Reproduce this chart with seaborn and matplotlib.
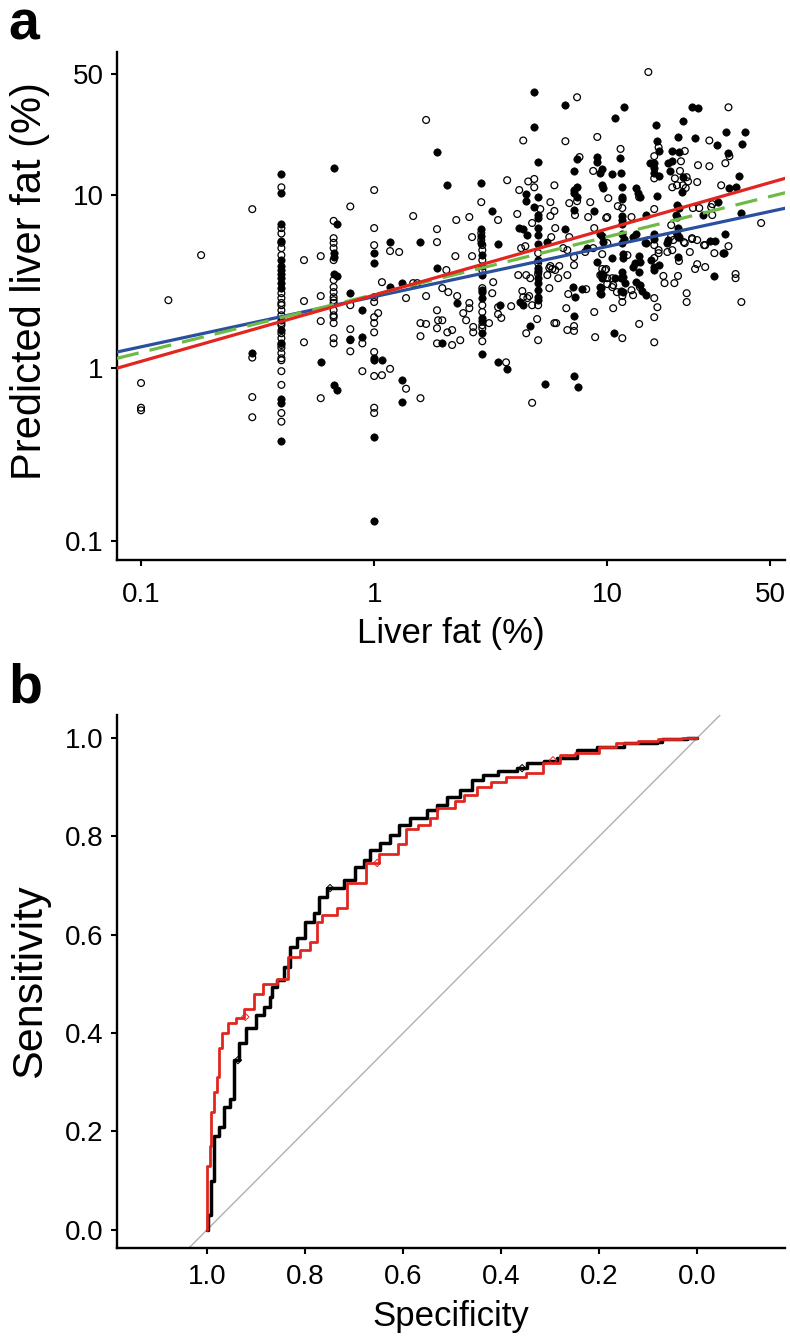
import numpy as np
import pandas as pd
import seaborn as sns
import matplotlib.pyplot as plt

sns.set_style("ticks")
plt.rcParams['font.family'] = ['Liberation Sans', 'DejaVu Sans']
plt.rcParams.update({"text.color": "black", "axes.labelcolor": "black", "axes.edgecolor": "black",
                     "xtick.color": "black", "ytick.color": "black"})

# ---- panel a: measured vs predicted liver fat (%), read off the figure ----
# filled dots
filled_pts = [
    (0.40, 13.2), (0.40, 10.3), (0.40, 6.8), (0.40, 5.4), (0.40, 4.2), (0.40, 3.9), (0.40, 3.7),
    (0.40, 3.5), (0.40, 3.3), (0.40, 3.1), (0.40, 2.9), (0.40, 1.9), (0.40, 1.66), (0.40, 1.4),
    (0.40, 0.66), (0.40, 0.63), (0.40, 0.38),
    (0.67, 14.3), (0.67, 4.6), (0.67, 4.4), (0.67, 3.5), (0.67, 0.80), (0.69, 6.8), (0.69, 3.4), (0.69, 0.75),
    (0.59, 1.08), (0.79, 2.7), (0.79, 1.47), (0.89, 2.16), (0.89, 1.51),
    (1.0, 4.6), (1.0, 4.05), (1.0, 1.14), (1.0, 1.11), (1.0, 0.40), (1.0, 0.13),
    (1.08, 1.11), (1.17, 5.35), (1.17, 2.94), (1.32, 3.1), (1.32, 0.85), (1.32, 0.64), (1.57, 5.35),
    (1.86, 17.7), (1.86, 3.8), (0.30, 1.22),
    (4.86, 39.4), (6.6, 33.2), (4.86, 24.7), (5.05, 15.5), (7.4, 16.1), (9.06, 16.6), (9.06, 15.5),
    (9.5, 14.1), (7.2, 13.8), (2.06, 11.4), (2.88, 11.7), (4.5, 10.1), (5.05, 9.7), (7.4, 11.1),
    (7.2, 10.7), (7.2, 10.3), (7.4, 9.7), (9.5, 11.4), (9.6, 11.0), (4.5, 9.2), (3.2, 8.1), (4.86, 8.5),
    (5.05, 7.7), (5.05, 7.4), (7.2, 8.2), (8.8, 8.1),
    (2.88, 6.4), (2.88, 5.8), (2.88, 5.3), (3.4, 5.2), (4.2, 6.5), (4.36, 6.4), (4.54, 5.9), (5.05, 6.5),
    (5.05, 5.9), (5.5, 5.35), (6.6, 6.4), (9.5, 5.8), (5.05, 5.2),
    (2.9, 4.5), (2.9, 3.9), (2.9, 3.45), (2.9, 2.82), (2.9, 2.75), (2.9, 2.54), (2.9, 1.95), (2.9, 1.87),
    (2.9, 1.59), (2.9, 1.20),
    (2.27, 2.38), (1.96, 1.39), (3.4, 1.08), (3.72, 0.99), (3.47, 2.31), (4.23, 2.41), (4.36, 2.31), (4.67, 1.75),
    (5.05, 4.2), (5.05, 3.8), (5.05, 3.64), (5.05, 3.3), (5.05, 3.1), (5.05, 2.82), (5.05, 2.57), (5.05, 2.47),
    (5.42, 0.81), (7.13, 2.94), (7.27, 2.57), (7.8, 2.86), (7.2, 2.0), (7.2, 0.90), (7.5, 0.78), (8.2, 4.94),
    (9.06, 4.1), (9.42, 3.5), (9.5, 3.3), (9.42, 2.9), (9.42, 2.68),
    (11.8, 32.2), (10.8, 28.1), (23.1, 32.2), (24.5, 31.8), (16.1, 25.4), (21.1, 26.8), (32.4, 23.2),
    (38.8, 23.2), (20.1, 21.7), (23.8, 21.3), (29.6, 19.4), (38.0, 19.7), (16.4, 20.5), (16.7, 18.0),
    (11.3, 16.4), (19.0, 18.0), (20.3, 17.7), (15.3, 15.3), (15.8, 15.3), (15.9, 14.3), (15.8, 13.4),
    (16.6, 12.9), (18.3, 15.3), (19.0, 15.7), (18.6, 13.8), (21.1, 12.7), (36.6, 12.9), (33.1, 17.5),
    (9.33, 13.4), (10.5, 13.2), (11.5, 13.4), (20.9, 10.4), (11.6, 11.1), (11.6, 9.7), (11.6, 9.5),
    (13.3, 11.0), (13.6, 10.3), (13.8, 9.7), (16.4, 9.9), (33.4, 11.0), (35.5, 11.1), (29.9, 9.1),
    (19.9, 8.8), (20.3, 8.4), (25.8, 7.7), (37.3, 7.9), (14.6, 7.7), (19.7, 7.7), (19.9, 7.5),
    (11.6, 7.6), (11.6, 7.2), (11.6, 6.8), (9.33, 6.0), (9.6, 5.35), (11.6, 6.0), (11.8, 5.6),
    (11.6, 5.3), (13.3, 6.0), (12.9, 5.7), (15.9, 6.0), (15.8, 5.6), (14.6, 5.3), (20.1, 6.45),
    (19.9, 6.0), (20.1, 5.7), (18.1, 5.3), (27.6, 5.4), (29.1, 5.4), (32.1, 5.95), (31.4, 4.6),
    (10.5, 4.33), (11.7, 4.56), (11.7, 4.33), (11.6, 3.59), (11.5, 3.31), (11.7, 3.36), (9.6, 3.45),
    (10.8, 3.31), (9.33, 2.94), (9.33, 2.71), (11.4, 2.79), (11.7, 2.75), (11.9, 3.1), (13.2, 4.05),
    (12.9, 3.84), (13.8, 4.1), (13.7, 3.59), (13.7, 4.44), (13.3, 3.14), (13.8, 3.02), (14.1, 2.79),
    (14.6, 2.64), (10.7, 1.59), (15.4, 4.21), (15.9, 3.84), (16.6, 3.94), (15.9, 3.69), (20.1, 4.38),
    (18.3, 5.5), (20.3, 5.72), (31.8, 4.62), (28.8, 3.41),
]

# open circles
open_pts = [
    (0.131, 2.47), (0.181, 4.5), (0.30, 8.3), (0.1, 0.82), (0.1, 0.59), (0.1, 0.57),
    (0.30, 1.15), (0.30, 0.68), (0.30, 0.52),
    (0.40, 11.1), (0.40, 6.45), (0.40, 6.0), (0.40, 5.3), (0.40, 4.94), (0.40, 4.5), (0.40, 2.71),
    (0.40, 2.54), (0.40, 2.38), (0.40, 2.31), (0.40, 2.16), (0.40, 2.02), (0.40, 1.82), (0.40, 1.77),
    (0.40, 1.59), (0.40, 1.49), (0.40, 1.36), (0.40, 1.31), (0.40, 1.22), (0.40, 1.14), (0.40, 1.11),
    (0.40, 0.96), (0.40, 0.80), (0.40, 0.55), (0.40, 0.49),
    (0.67, 7.1), (0.67, 5.64), (0.67, 5.3), (0.67, 4.94), (0.67, 4.21), (0.67, 3.23), (0.67, 2.94),
    (0.67, 2.75), (0.67, 2.57), (0.67, 2.47), (0.67, 2.38), (0.67, 2.16), (0.67, 2.02), (0.67, 1.97),
    (0.67, 1.82), (0.67, 1.49), (0.67, 1.39),
    (0.50, 4.21), (0.50, 2.44), (0.50, 1.41), (0.59, 4.44), (0.59, 2.61), (0.59, 1.87), (0.59, 0.67),
    (0.79, 8.6), (0.79, 2.31), (0.79, 1.68), (0.79, 1.45), (0.79, 1.25), (0.89, 1.39), (0.89, 0.96),
    (1.0, 10.7), (1.0, 6.45), (1.0, 5.14), (1.0, 2.57), (1.0, 2.41), (1.0, 1.97), (1.0, 1.82),
    (1.0, 1.61), (1.0, 1.24), (1.0, 0.90), (1.0, 0.59), (1.0, 0.55),
    (1.04, 2.08), (1.08, 3.14), (1.08, 0.91), (1.17, 4.75), (1.17, 0.99), (1.28, 4.69), (1.37, 2.54),
    (1.37, 0.76), (1.47, 7.57), (1.47, 3.1), (1.53, 3.1), (1.58, 1.82), (1.58, 1.53), (1.58, 0.67),
    (1.67, 27.2), (1.67, 2.61), (1.67, 1.8), (1.86, 6.36), (1.86, 5.35), (1.86, 2.16), (1.86, 1.70),
    (1.86, 1.39), (1.88, 1.89),
    (7.42, 36.8), (4.36, 20.7), (6.61, 20.5), (9.06, 21.7), (7.6, 16.6), (8.7, 13.8), (3.72, 12.2),
    (4.58, 12.0), (4.86, 12.4), (4.19, 10.7), (4.86, 11.1), (5.93, 11.4), (7.42, 9.23), (10.1, 9.6),
    (2.88, 9.11), (5.7, 9.11), (6.87, 8.99), (8.45, 9.11), (2.56, 7.47), (2.25, 7.18), (3.4, 7.18),
    (4.11, 7.78), (5.16, 8.31), (5.7, 7.57), (5.93, 8.1), (7.27, 7.67), (8.28, 7.47), (9.89, 7.38),
    (2.88, 6.04), (2.88, 5.5), (2.63, 5.72), (4.76, 6.9), (5.98, 6.45), (5.75, 5.72), (4.27, 4.94),
    (4.45, 5.07), (6.87, 5.72), (8.79, 6.45),
    (33.1, 32.2), (27.4, 20.7), (16.6, 18.9), (11.4, 18.5), (21.5, 18.0), (15.9, 16.8), (20.7, 15.7),
    (15.9, 12.5), (20.5, 13.8), (19.5, 12.5), (21.9, 12.7), (22.2, 12.0), (24.5, 14.9), (27.4, 14.7),
    (32.1, 15.3), (33.4, 16.8), (24.3, 11.9), (19.0, 11.1), (19.9, 11.4), (21.1, 11.4), (21.7, 11.0),
    (13.7, 9.73), (30.8, 11.4), (28.2, 8.87), (11.1, 8.64), (11.6, 8.42), (15.9, 8.31), (23.3, 8.42),
    (24.8, 8.42), (27.9, 8.53), (28.2, 7.67), (45.7, 6.9), (18.8, 6.71), (10.0, 7.47), (12.7, 7.47),
    (10.0, 5.28), (15.9, 5.14), (15.1, 5.5), (18.8, 5.79), (19.2, 5.5), (21.5, 5.28), (23.1, 5.57),
    (24.3, 5.5), (26.3, 5.14), (33.1, 5.07),
    (2.91, 5.14), (2.91, 4.81), (2.91, 4.21), (2.91, 3.69), (2.91, 2.9), (2.91, 2.31), (2.91, 2.11),
    (2.91, 1.77), (2.91, 1.70), (2.91, 1.43),
    (2.23, 4.44), (2.63, 4.44), (2.04, 3.69), (1.96, 2.9), (2.08, 2.75), (2.27, 2.61), (2.66, 1.73),
    (2.66, 1.61), (2.48, 1.89), (2.41, 2.08), (2.56, 2.38), (2.56, 2.22), (2.16, 1.36), (2.34, 1.45),
    (2.06, 1.61), (2.16, 1.66), (1.96, 1.89), (3.68, 1.08), (3.11, 1.82), (3.24, 3.14), (3.21, 2.71),
    (3.4, 2.25), (3.4, 2.05), (3.51, 1.95), (3.87, 2.28), (4.32, 2.79), (4.36, 2.57), (4.62, 2.61),
    (4.54, 2.54), (4.76, 2.31), (4.49, 1.59), (5.0, 1.92), (5.05, 1.45),
    (5.05, 4.62), (5.05, 4.05), (5.05, 3.5), (5.05, 2.31),
    (5.64, 3.79), (5.64, 2.9), (5.98, 3.69), (6.16, 3.31), (5.53, 3.45), (4.76, 0.63), (5.93, 1.82),
    (6.04, 1.82), (6.74, 3.45), (6.67, 2.22), (8.12, 2.86), (6.80, 2.68), (7.2, 1.75), (7.2, 1.64),
    (6.74, 1.66), (7.2, 4.38), (7.2, 3.94), (6.47, 4.94), (6.74, 4.81), (8.04, 4.69), (8.7, 4.94),
    (9.51, 4.56), (9.89, 3.74), (9.51, 3.74), (9.33, 3.45), (9.99, 3.06), (8.79, 2.11), (8.87, 1.51),
    (6.22, 3.89), (5.81, 3.74), (5.7, 3.89), (4.15, 3.45), (4.49, 3.45), (4.67, 3.31),
    (9.79, 3.69), (12.2, 4.5), (9.99, 3.31), (10.5, 3.31), (10.6, 3.02), (10.5, 2.94), (11.0, 2.75),
    (11.6, 2.61), (11.6, 2.41), (12.7, 2.82), (12.9, 2.64), (13.8, 2.94), (10.6, 2.22), (11.6, 1.49),
    (13.7, 1.80), (15.9, 2.54), (16.4, 2.25), (15.9, 1.97), (15.9, 1.41), (14.6, 5.28), (16.6, 4.81),
    (15.9, 4.33), (16.6, 4.62), (17.4, 3.41), (17.6, 3.10), (19.4, 3.10), (20.1, 3.41), (20.3, 4.16),
    (18.1, 4.69), (19.0, 4.81), (21.3, 5.35), (22.6, 4.69), (21.9, 2.71), (21.9, 2.41), (23.1, 5.64),
    (26.0, 5.14), (28.8, 4.62), (24.3, 3.99), (23.8, 3.74), (26.3, 3.84), (35.5, 3.5), (35.5, 3.31),
    (37.6, 2.41), (15.0, 51.5),
]

# fitted lines on log-log scale: log10(y) = intercept + slope * log10(x)
fit_names = ["blue", "green", "red"]
fit_intercepts = [0.413, 0.425, 0.422]
fit_slopes = [0.290, 0.334, 0.383]

# ---- panel b: ROC curves (specificity, sensitivity) ----
black_spec = [1.0, 0.998, 0.992, 0.985, 0.975, 0.965, 0.953, 0.945, 0.935, 0.92, 0.90, 0.883, 0.871,
              0.867, 0.857, 0.843, 0.831, 0.816, 0.80, 0.782, 0.771, 0.755, 0.720, 0.698, 0.680, 0.667,
              0.647, 0.627, 0.608, 0.586, 0.551, 0.531, 0.510, 0.484, 0.459, 0.437, 0.406, 0.367, 0.347,
              0.312, 0.286, 0.245, 0.204, 0.149, 0.082, 0.071, 0.02, 0.0]
black_sens = [0.0, 0.03, 0.10, 0.19, 0.21, 0.25, 0.265, 0.345, 0.38, 0.41, 0.437, 0.453, 0.474,
              0.494, 0.508, 0.535, 0.575, 0.593, 0.626, 0.644, 0.677, 0.695, 0.711, 0.738, 0.752, 0.772,
              0.787, 0.803, 0.823, 0.837, 0.854, 0.864, 0.88, 0.894, 0.915, 0.925, 0.933, 0.939, 0.949,
              0.953, 0.959, 0.976, 0.982, 0.99, 0.992, 0.998, 1.0, 1.0]
red_spec = [1.0, 1.0, 0.995, 0.993, 0.985, 0.980, 0.975, 0.970, 0.957, 0.940, 0.925, 0.905, 0.885,
            0.857, 0.835, 0.810, 0.790, 0.775, 0.765, 0.735, 0.715, 0.675, 0.650, 0.610, 0.595, 0.570,
            0.545, 0.530, 0.495, 0.475, 0.450, 0.420, 0.390, 0.350, 0.315, 0.280, 0.250, 0.200, 0.165,
            0.120, 0.080, 0.030, 0.0]
red_sens = [0.0, 0.13, 0.17, 0.24, 0.28, 0.31, 0.37, 0.40, 0.42, 0.43, 0.45, 0.48, 0.50,
            0.51, 0.555, 0.57, 0.585, 0.625, 0.64, 0.655, 0.705, 0.745, 0.765, 0.785, 0.815, 0.823,
            0.837, 0.858, 0.873, 0.885, 0.90, 0.91, 0.92, 0.93, 0.95, 0.965, 0.97, 0.982, 0.99,
            0.994, 0.998, 1.0, 1.0]
# threshold markers
black_mark_spec = [0.937, 0.749, 0.357]
black_mark_sens = [0.345, 0.695, 0.939]
red_mark_spec = [0.922, 0.653, 0.294]
red_mark_sens = [0.433, 0.746, 0.955]

line_colors = {"blue": "#2b4f9f", "green": "#6dbb45", "red": "#e2261f"}

fig = plt.figure(figsize=(7.9, 13.4), dpi=100)
ax1 = fig.add_axes([0.148, 0.582, 0.846, 0.379])
ax2 = fig.add_axes([0.148, 0.0687, 0.846, 0.3977])

# panel a
ax1.set_xscale("log")
ax1.set_yscale("log")
df_open = pd.DataFrame(open_pts, columns=["liver_fat", "predicted"])
df_filled = pd.DataFrame(filled_pts, columns=["liver_fat", "predicted"])
sns.scatterplot(data=df_open, x="liver_fat", y="predicted", ax=ax1, s=24, color="black",
                facecolor="none", edgecolor="black", linewidth=0.9, zorder=2)
sns.scatterplot(data=df_filled, x="liver_fat", y="predicted", ax=ax1, s=28, color="black",
                edgecolor="black", linewidth=0.5, zorder=2)

xlim_a = (0.0788, 58)
xg = np.logspace(np.log10(xlim_a[0]), np.log10(xlim_a[1]), 60)
for name, b0, b1 in zip(fit_names, fit_intercepts, fit_slopes):
    yg = 10 ** (b0 + b1 * np.log10(xg))
    ls = (0, (7, 3.5)) if name == "green" else "-"
    sns.lineplot(x=xg, y=yg, ax=ax1, color=line_colors[name], linewidth=2.3, linestyle=ls, zorder=3)

ax1.set_xlim(*xlim_a)
ax1.set_ylim(0.0776, 67)
ax1.minorticks_off()
ax1.set_xticks([0.1, 1, 10, 50])
ax1.set_xticklabels(["0.1", "1", "10", "50"])
ax1.set_yticks([0.1, 1, 10, 50])
ax1.set_yticklabels(["0.1", "1", "10", "50"])
ax1.set_xlabel("Liver fat (%)", fontsize=25)
ax1.set_ylabel("Predicted liver fat (%)", fontsize=30)
ax1.xaxis.set_label_coords(0.5, -0.112)
ax1.yaxis.set_label_coords(-0.1, 0.55)

# panel b
ax2.axline((1, 0), (0, 1), color="#b0b0b0", linewidth=1.0, zorder=1)
sns.lineplot(x=black_spec, y=black_sens, ax=ax2, sort=False, estimator=None, color="black",
             linewidth=2.5, drawstyle="steps-post", zorder=3)
sns.lineplot(x=red_spec, y=red_sens, ax=ax2, sort=False, estimator=None, color="#e2261f",
             linewidth=2.0, drawstyle="steps-post", zorder=4)
ax2.scatter(black_mark_spec, black_mark_sens, marker="D", s=14, facecolor="none",
            edgecolor="black", linewidth=0.7, zorder=5)
ax2.scatter(red_mark_spec, red_mark_sens, marker="D", s=14, facecolor="none",
            edgecolor="#e2261f", linewidth=0.7, zorder=5)
ax2.set_xlim(1.184, -0.18)
ax2.set_ylim(-0.037, 1.047)
ax2.set_xticks([1.0, 0.8, 0.6, 0.4, 0.2, 0.0])
ax2.set_xticklabels(["1.0", "0.8", "0.6", "0.4", "0.2", "0.0"])
ax2.set_yticks([0.0, 0.2, 0.4, 0.6, 0.8, 1.0])
ax2.set_yticklabels(["0.0", "0.2", "0.4", "0.6", "0.8", "1.0"])
ax2.set_xlabel("Specificity", fontsize=25)
ax2.set_ylabel("Sensitivity", fontsize=31)
ax2.xaxis.set_label_coords(0.5, -0.097)
ax2.yaxis.set_label_coords(-0.1, 0.5)

for ax in (ax1, ax2):
    sns.despine(ax=ax)
    for sp in ("left", "bottom"):
        ax.spines[sp].set_linewidth(1.7)
        ax.spines[sp].set_color("black")
    ax.tick_params(axis="both", labelsize=20, length=4.5, width=1.5, color="black", labelcolor="black")
    ax.tick_params(axis="y", pad=5)
ax1.tick_params(axis="x", pad=11)
ax2.tick_params(axis="x", pad=7)

fig.text(8 / 790, 1 - 40 / 1340, "a", fontsize=40, fontweight="bold", va="baseline", color="black")
fig.text(8 / 790, 1 - 703 / 1340, "b", fontsize=40, fontweight="bold", va="baseline", color="black")

fig.savefig("out.png", dpi=100, facecolor="white")
